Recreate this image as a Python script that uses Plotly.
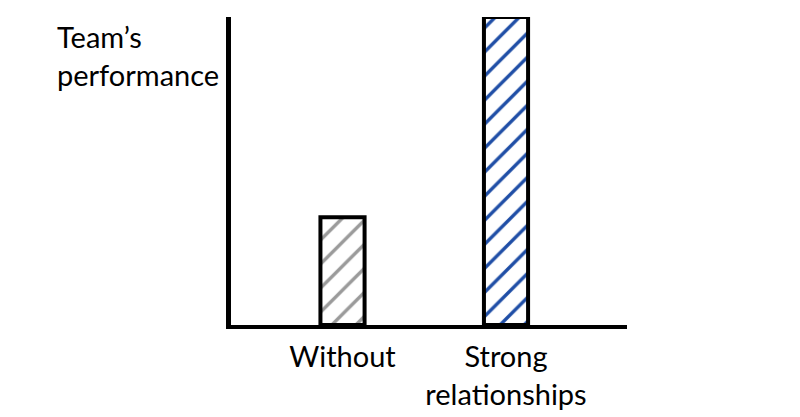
import plotly.graph_objects as go

categories = ["Without", "Strong<br>relationships"]
positions = [1, 2]
values = [35, 100]
hatch_colors = ["#9a9a9a", "#1f4ea6"]
y_title = "Team’s<br>performance"

font_family = "Lato, 'Open Sans', sans-serif"

fig = go.Figure()
fig.add_trace(go.Bar(
    x=positions,
    y=values,
    width=0.27,
    marker=dict(
        color="white",
        line=dict(color="black", width=4),
        pattern=dict(shape="/", fgcolor=hatch_colors, bgcolor="white",
                     size=17, solidity=0.2, fgopacity=1, fillmode="overlay"),
    ),
    showlegend=False,
    hoverinfo="skip",
))

# page body has an 8px margin, so margins are reduced by 8 on left/top
fig.update_layout(
    width=800, height=417,
    margin=dict(l=223, r=181, t=9, b=100),
    paper_bgcolor="white", plot_bgcolor="white",
    font=dict(family=font_family, size=29, color="black"),
    xaxis=dict(
        range=[0.318, 2.74],
        tickmode="array", tickvals=positions, ticktext=categories,
        showline=True, linecolor="black", linewidth=4,
        showgrid=False, zeroline=False, automargin=False,
        ticks="outside", ticklen=3, tickcolor="rgba(0,0,0,0)",
        tickfont=dict(size=29, family=font_family),
    ),
    yaxis=dict(
        range=[0, 100], automargin=False,
        showline=True, linecolor="black", linewidth=5,
        showgrid=False, zeroline=False, showticklabels=False, ticks="",
    ),
    annotations=[dict(
        text=y_title, xref="paper", yref="paper",
        x=-0.445, y=1.0, xanchor="left", yanchor="top",
        align="left", showarrow=False,
        font=dict(size=29, family=font_family),
    )],
)

fig.write_html("out.html")
